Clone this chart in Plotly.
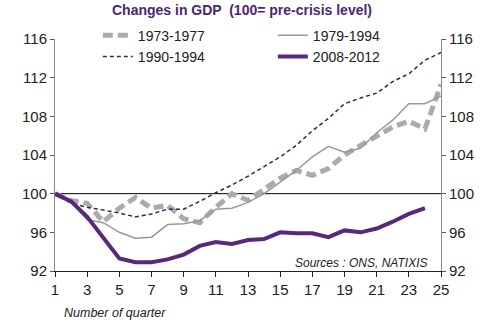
import plotly.graph_objects as go

quarters = list(range(1, 26))
s1973 = [100, 99.3, 99.0, 97.1, 98.5, 99.6, 98.5, 98.8, 97.4, 97.0, 98.6, 100.0, 99.3,
         100.4, 101.6, 102.4, 101.9, 102.6, 104.0, 105.0, 106.0, 106.9, 107.5, 106.7, 111.3]
s1979 = [100, 99.1, 97.3, 97.0, 96.0, 95.4, 95.5, 96.8, 96.9, 97.2, 98.4, 98.5, 99.1,
         100.0, 101.2, 102.4, 103.8, 104.9, 104.3, 104.7, 106.3, 107.6, 109.3, 109.3, 110.1]
s1990 = [100, 99.0, 98.6, 98.3, 98.0, 97.6, 97.9, 98.4, 98.4, 99.2, 100.1, 100.9, 101.8,
         102.8, 103.8, 105.0, 106.5, 107.8, 109.3, 109.9, 110.4, 111.6, 112.4, 113.8, 114.6]
s2008 = [100, 99.2, 97.6, 95.5, 93.3, 92.9, 92.9, 93.2, 93.7, 94.6, 95.0, 94.8, 95.2,
         95.3, 96.0, 95.9, 95.9, 95.5, 96.2, 96.0, 96.4, 97.1, 97.9, 98.5]
y_ticks = [92, 96, 100, 104, 108, 112, 116]
x_ticks = list(range(1, 26, 2))

fig = go.Figure()
fig.add_trace(go.Scatter(x=quarters, y=s1973, mode="lines", name="1973-1977",
                         line=dict(color="#ABABAB", width=5, dash="10px,5px")))
fig.add_trace(go.Scatter(x=quarters, y=s1979, mode="lines", name="1979-1994",
                         line=dict(color="#999999", width=1.5)))
fig.add_trace(go.Scatter(x=quarters, y=s1990, mode="lines", name="1990-1994",
                         line=dict(color="#3B2160", width=1.5, dash="4px,3px")))
fig.add_trace(go.Scatter(x=quarters[:len(s2008)], y=s2008, mode="lines", name="2008-2012",
                         line=dict(color="#58287E", width=4)))
fig.add_trace(go.Scatter(x=[1], y=[100], yaxis="y2", mode="lines", showlegend=False,
                         hoverinfo="skip", line=dict(width=0), opacity=0))

fig.add_shape(type="line", xref="paper", x0=0, x1=1, yref="y", y0=100, y1=100,
              line=dict(color="black", width=1), layer="below")

tickfont = dict(family="Liberation Sans, Arial", size=15, color="#222222")
fig.update_layout(
    width=500, height=331,
    margin=dict(l=55, r=59, t=39, b=60),
    paper_bgcolor="white", plot_bgcolor="white",
    title=dict(text="<b>Changes in GDP  (100= pre-crisis level)</b>",
               x=0.484, xanchor="center", y=0.968, yanchor="middle",
               font=dict(family="Liberation Sans, Arial", size=14, color="#4B2770")),
    xaxis=dict(range=[1, 25], tickvals=x_ticks, showgrid=False, zeroline=False,
               showline=True, linecolor="#222222", linewidth=1, ticks="outside",
               ticklen=5, tickcolor="#222222", tickfont=tickfont),
    yaxis=dict(range=[92, 116], tickvals=y_ticks, showgrid=False, zeroline=False,
               showline=True, linecolor="#888888", linewidth=1, ticks="outside",
               ticklen=4, tickcolor="#555555", tickfont=tickfont),
    yaxis2=dict(range=[92, 116], tickvals=y_ticks, overlaying="y", side="right",
                showgrid=False, zeroline=False, showline=True, linecolor="#888888",
                linewidth=1, ticks="outside", ticklen=4, tickcolor="#555555",
                tickfont=tickfont),
    legend=dict(orientation="h", x=0.111, xanchor="left", y=1.083, yanchor="top",
                entrywidth=130, bgcolor="rgba(0,0,0,0)", tracegroupgap=0,
                font=dict(family="Liberation Sans, Arial", size=14, color="#222222")),
    showlegend=True,
)
fig.add_annotation(text="<i>Sources : ONS, NATIXIS</i>", xref="paper", yref="paper",
                   x=0.97, y=0.035, xanchor="right", yanchor="middle", showarrow=False,
                   font=dict(family="Liberation Sans, Arial", size=12, color="#222222"))
fig.add_annotation(text="<i>Number of quarter</i>", xref="paper", yref="paper",
                   x=0.018, y=-0.18, xanchor="left", yanchor="middle", showarrow=False,
                   font=dict(family="Liberation Sans, Arial", size=12.5, color="#222222"))

fig.write_html("out.html")
